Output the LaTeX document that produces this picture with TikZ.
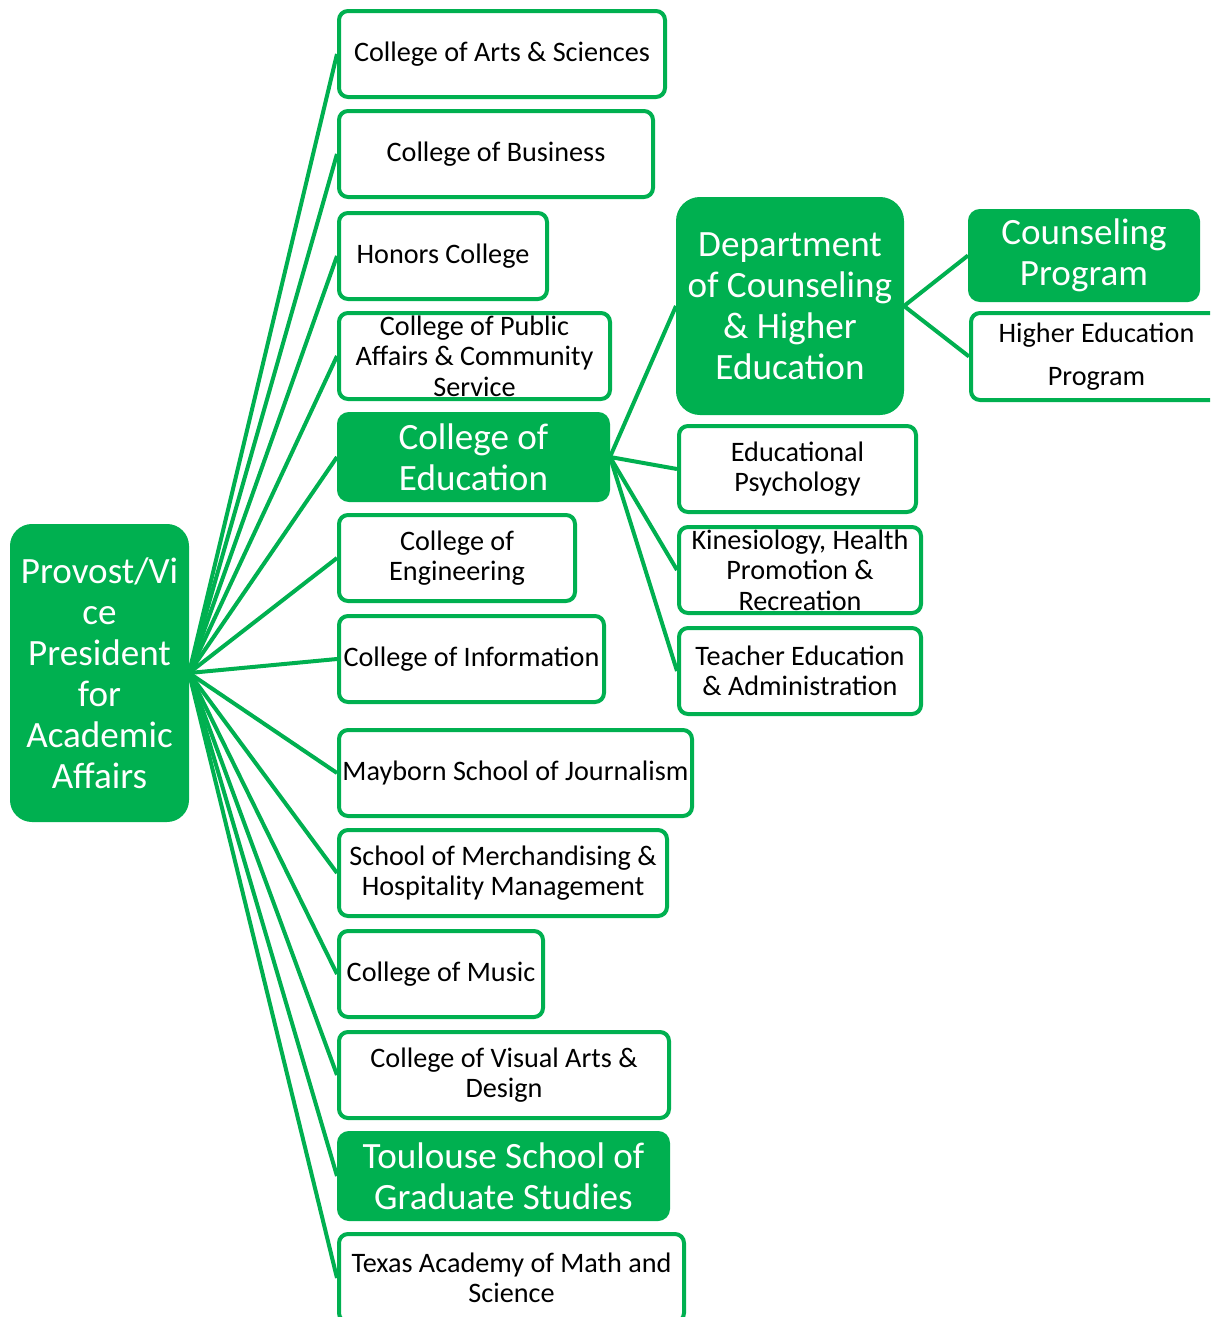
\documentclass[tikz,border=0pt]{standalone}
\usepackage{fontspec}
\setmainfont{Carlito}
\definecolor{ugreen}{HTML}{00B050}
\tikzset{
  obox/.style={draw=ugreen, line width=4pt, fill=white, rounded corners=9pt, inner sep=0pt, align=center, text=black,
    font=\fontsize{28.2}{30.5}\selectfont},
  fbox/.style={draw=ugreen, line width=4pt, fill=ugreen, rounded corners=10pt, inner sep=0pt, align=center, text=white,
    font=\fontsize{37.1}{41}\selectfont},
  conn/.style={draw=ugreen, line width=4pt},
}
\begin{document}
\begin{tikzpicture}[x=1pt,y=-1pt]
\useasboundingbox (0,0) rectangle (1210,1317);
\clip (0,0) rectangle (1210,1317);
% root
\node[fbox, rounded corners=20pt, minimum width=175pt, minimum height=294pt] (prov) at (99.5,673) {Provost/Vi\\ce\\President\\for\\Academic\\Affairs};
% colleges
\node[obox, minimum width=326pt, minimum height=86pt] (b1) at (502,54) {College of Arts \& Sciences};
\node[obox, minimum width=314pt, minimum height=86pt] (b2) at (496,154) {College of Business};
\node[obox, minimum width=208pt, minimum height=86pt] (b3) at (443,256) {Honors College};
\node[obox, minimum width=271pt, minimum height=86pt] (b4) at (474.5,356) {College of Public\\Affairs \& Community\\Service};
\node[fbox, minimum width=269pt, minimum height=86pt] (b5) at (473.5,457) {College of\\Education};
\node[obox, minimum width=236pt, minimum height=86pt] (b6) at (457,558) {College of\\Engineering};
\node[obox, minimum width=265pt, minimum height=86pt] (b7) at (471.5,659) {College of Information};
\node[obox, minimum width=353pt, minimum height=86pt] (b8) at (515.5,773) {Mayborn School of Journalism};
\node[obox, minimum width=328pt, minimum height=86pt] (b9) at (503,873) {School of Merchandising \&\\Hospitality Management};
\node[obox, minimum width=204pt, minimum height=86pt] (b10) at (441,974) {College of Music};
\node[obox, minimum width=330pt, minimum height=86pt] (b11) at (504,1075) {College of Visual Arts \&\\Design};
\node[fbox, minimum width=329pt, minimum height=86pt] (b12) at (503.5,1176) {Toulouse School of\\Graduate Studies};
\node[obox, minimum width=345pt, minimum height=88pt] (b13) at (511.5,1278) {Texas Academy of Math and\\Science};
% education departments
\node[fbox, rounded corners=22pt, minimum width=224pt, minimum height=214pt] (dept) at (790,306) {Department\\of Counseling\\\& Higher\\Education};
\node[obox, minimum width=237pt, minimum height=86pt] (ep) at (797.5,469) {Educational\\Psychology};
\node[obox, minimum width=242pt, minimum height=86pt] (kh) at (800,570) {Kinesiology, Health\\Promotion \&\\Recreation};
\node[obox, minimum width=242pt, minimum height=86pt] (te) at (800,671) {Teacher Education\\\& Administration};
% programs
\node[fbox, minimum width=228pt, minimum height=89pt] (cp) at (1084,255.5) {Counseling\\Program};
\node[obox, minimum width=251pt, minimum height=87pt, font=\fontsize{28.2}{43}\selectfont] (hep) at (1096.5,356.5) {Higher Education\\Program};
% connectors
\foreach \n in {b1,b2,b3,b4,b5,b6,b7,b8,b9,b10,b11,b12,b13}
  \draw[conn] (prov.east) -- (\n.west);
\foreach \n in {dept,ep,kh,te}
  \draw[conn] (b5.east) -- (\n.west);
\foreach \n in {cp,hep}
  \draw[conn] (dept.east) -- (\n.west);
\end{tikzpicture}
\end{document}
